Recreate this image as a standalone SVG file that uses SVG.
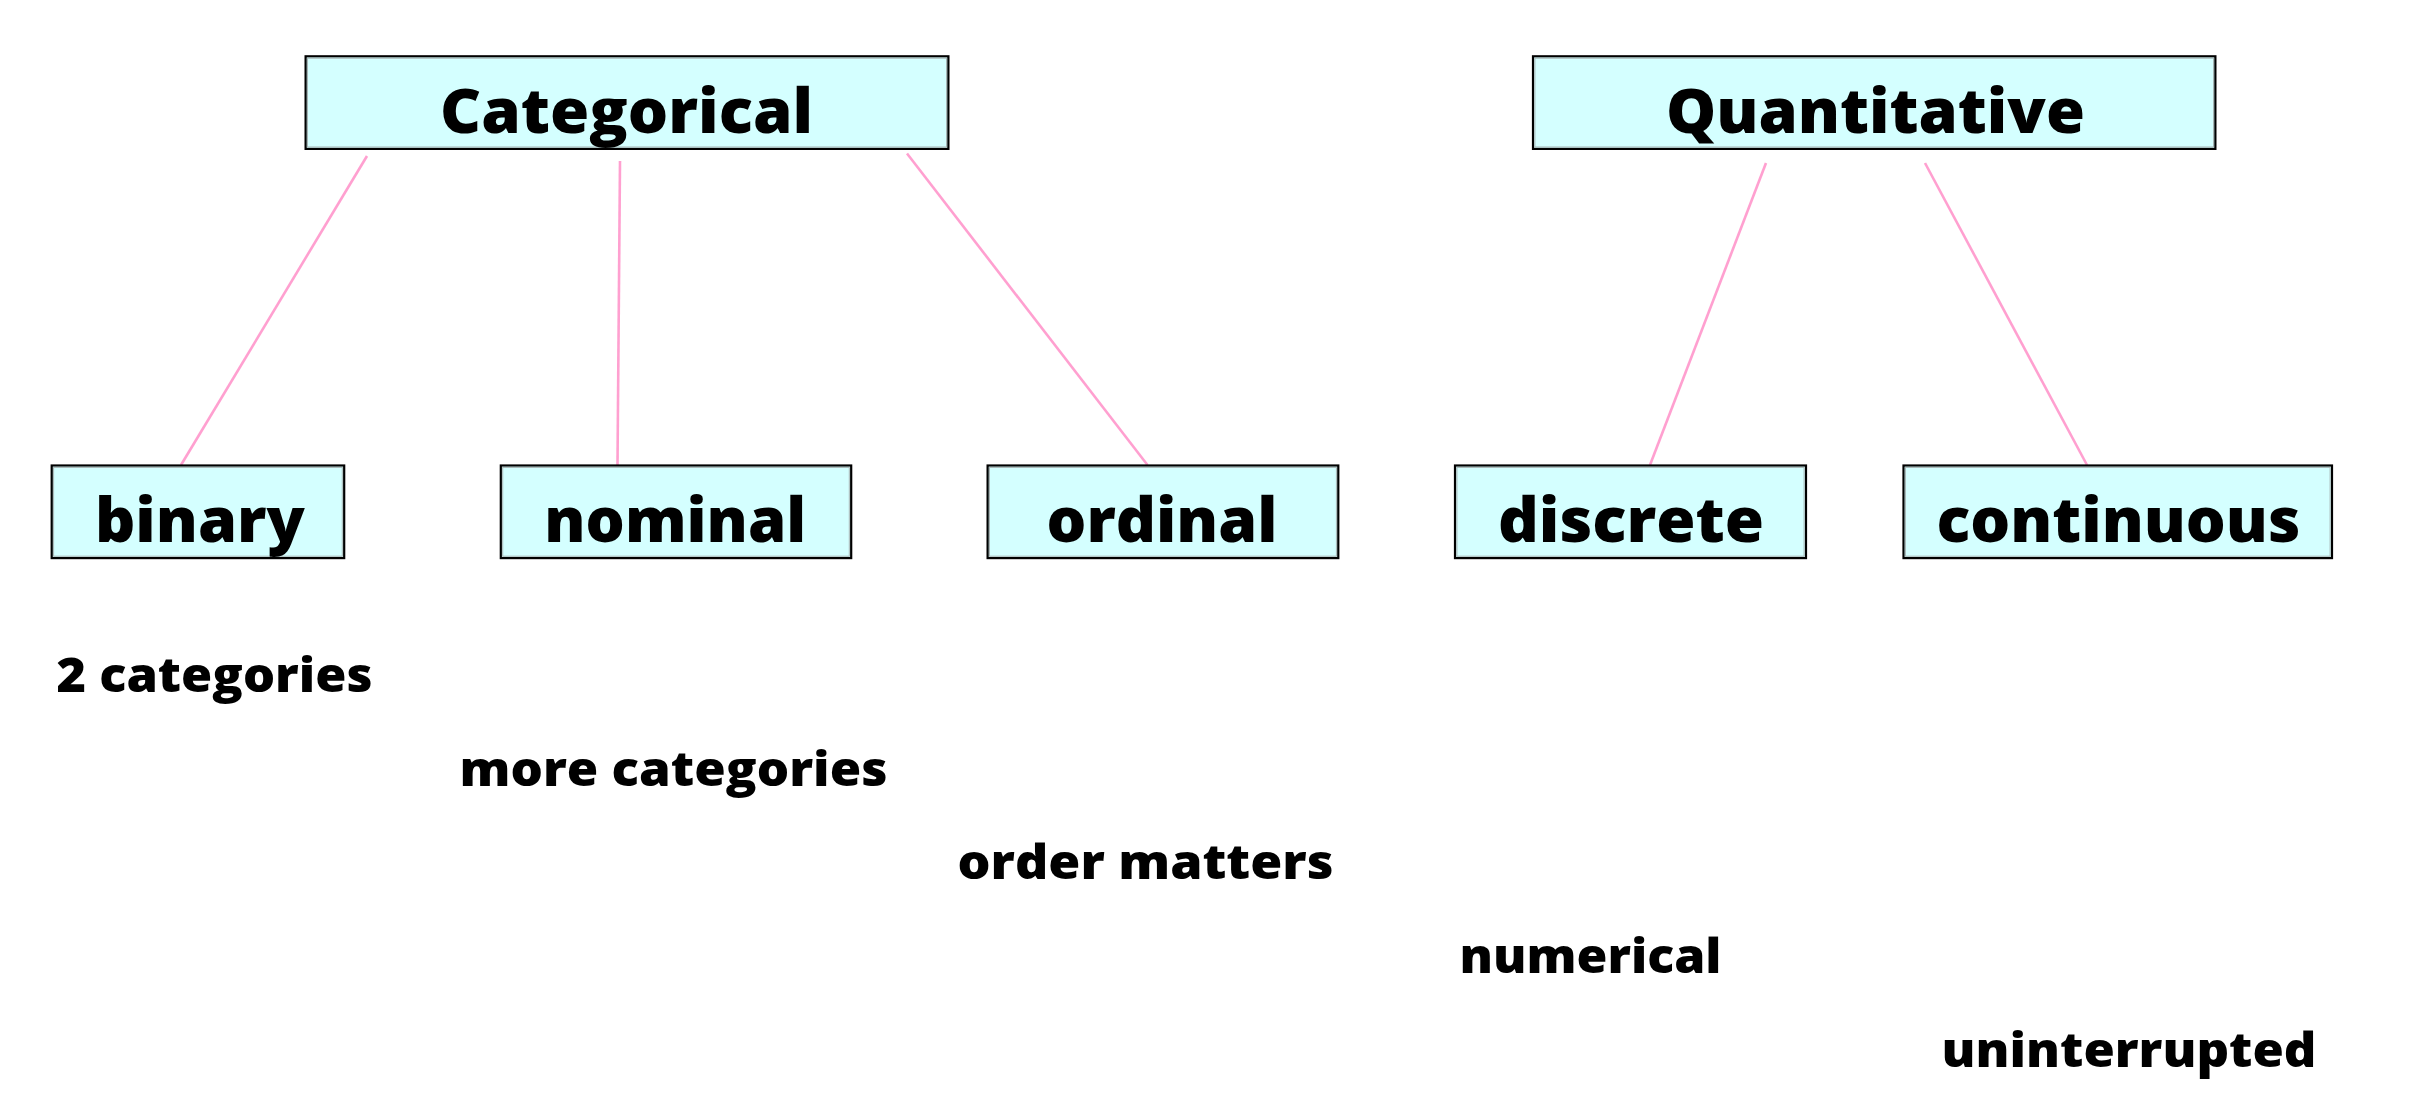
<svg xmlns="http://www.w3.org/2000/svg" width="2420" height="1094" viewBox="0 0 2420 1094">
  <style>
    .box { fill: #d4ffff; stroke: #000000; stroke-width: 2.2; }
    .inner { fill: none; stroke: #a8b4b4; stroke-width: 1; }
    .bt { font-family: "Open Sans", "Liberation Sans", sans-serif; font-weight: 800; font-size: 62px; fill: #000000; text-anchor: middle; }
    .lbl { font-family: "Open Sans", "Liberation Sans", sans-serif; font-weight: 800; font-size: 47px; fill: #000000; }
    .edge { stroke: #ffa0d0; stroke-width: 2.6; fill: none; }
  </style>
  <rect width="2420" height="1094" fill="#ffffff"/>
  <g id="connectors">
    <line class="edge" x1="367" y1="156" x2="181" y2="465"/>
    <line class="edge" x1="620" y1="161" x2="617.5" y2="465"/>
    <line class="edge" x1="907" y1="153.5" x2="1147.5" y2="465"/>
    <line class="edge" x1="1766" y1="163" x2="1650" y2="465"/>
    <line class="edge" x1="1925" y1="163" x2="2087" y2="465"/>
  </g>
  <g id="node-categorical">
    <rect class="box" x="305.6" y="56.3" width="642.8" height="92.6"/>
    <rect class="inner" x="307.5" y="58.2" width="639" height="88.8"/>
    <text class="bt" x="626.6" y="132.8" textLength="373" lengthAdjust="spacingAndGlyphs">Categorical</text>
  </g>
  <g id="node-quantitative">
    <rect class="box" x="1533" y="56.3" width="682.4" height="92.6"/>
    <rect class="inner" x="1534.9" y="58.2" width="678.6" height="88.8"/>
    <text class="bt" x="1875.4" y="132.8" textLength="419" lengthAdjust="spacingAndGlyphs">Quantitative</text>
  </g>
  <g id="node-binary">
    <rect class="box" x="51.7" y="465.5" width="292.5" height="92.6"/>
    <rect class="inner" x="53.6" y="467.4" width="288.7" height="88.8"/>
    <text class="bt" x="199.9" y="541.5" textLength="210" lengthAdjust="spacingAndGlyphs">binary</text>
  </g>
  <g id="node-nominal">
    <rect class="box" x="500.8" y="465.5" width="350.4" height="92.6"/>
    <rect class="inner" x="502.7" y="467.4" width="346.6" height="88.8"/>
    <text class="bt" x="675.3" y="541.5" textLength="262" lengthAdjust="spacingAndGlyphs">nominal</text>
  </g>
  <g id="node-ordinal">
    <rect class="box" x="987.6" y="465.5" width="350.7" height="92.6"/>
    <rect class="inner" x="989.5" y="467.4" width="346.9" height="88.8"/>
    <text class="bt" x="1162" y="541.5" textLength="231" lengthAdjust="spacingAndGlyphs">ordinal</text>
  </g>
  <g id="node-discrete">
    <rect class="box" x="1455" y="465.5" width="351" height="92.6"/>
    <rect class="inner" x="1456.9" y="467.4" width="347.2" height="88.8"/>
    <text class="bt" x="1631" y="541.5" textLength="266" lengthAdjust="spacingAndGlyphs">discrete</text>
  </g>
  <g id="node-continuous">
    <rect class="box" x="1903.5" y="465.5" width="428.5" height="92.6"/>
    <rect class="inner" x="1905.4" y="467.4" width="424.7" height="88.8"/>
    <text class="bt" x="2118.4" y="541.5" textLength="364" lengthAdjust="spacingAndGlyphs">continuous</text>
  </g>
  <g id="labels">
    <text class="lbl" x="56.5" y="691.7" textLength="316" lengthAdjust="spacingAndGlyphs">2 categories</text>
    <text class="lbl" x="459.5" y="785.5" textLength="428" lengthAdjust="spacingAndGlyphs">more categories</text>
    <text class="lbl" x="957.5" y="878.5" textLength="376" lengthAdjust="spacingAndGlyphs">order matters</text>
    <text class="lbl" x="1459.5" y="972.8" textLength="262" lengthAdjust="spacingAndGlyphs">numerical</text>
    <text class="lbl" x="1941.5" y="1066.6" textLength="375" lengthAdjust="spacingAndGlyphs">uninterrupted</text>
  </g>
</svg>
